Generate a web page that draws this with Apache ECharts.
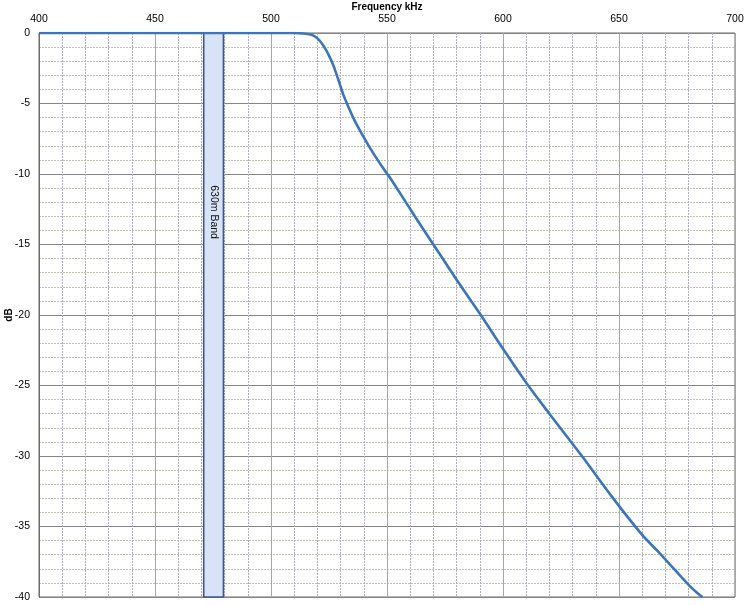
<!DOCTYPE html>
<html>
<head>
<meta charset="utf-8">
<script src="https://cdn.jsdelivr.net/npm/echarts@6/dist/echarts.min.js"></script>
<style>
html,body{margin:0;padding:0;background:#fff;}
#chart{width:750px;height:605px;}
</style>
</head>
<body>
<div id="chart"></div>
<script>
// Frequency response (kHz, dB)
var freqKHz = [400, 450, 500, 510, 514, 517, 519, 521, 523, 525, 527, 529, 531, 533, 536, 540, 544, 548, 551, 555, 562, 570, 580, 590, 600, 610, 620, 634, 647, 660, 667, 672, 677, 681, 684, 686];
var responseDb = [0, 0, 0, 0, -0.03, -0.1, -0.25, -0.55, -1.0, -1.6, -2.35, -3.3, -4.3, -5.1, -6.2, -7.4, -8.5, -9.5, -10.2, -11.2, -13.0, -15.0, -17.5, -19.9, -22.4, -24.8, -27.0, -30.0, -32.9, -35.6, -36.8, -37.7, -38.6, -39.3, -39.75, -40];

// 630m band
var bandStartKHz = [471];
var bandEndKHz = [479.5];
var bandNames = ['630m Band'];
var bandLabelDb = [-12.7];

var xName = 'Frequency kHz';
var yName = 'dB';

var curve = freqKHz.map(function (f, i) { return [f, responseDb[i]]; });
var bands = bandStartKHz.map(function (s, i) { return [s, bandEndKHz[i], bandLabelDb[i], bandNames[i]]; });

var FONT = 'Liberation Sans, Arial, sans-serif';
var chart = echarts.init(document.getElementById('chart'));
chart.setOption({
  animation: false,
  backgroundColor: '#ffffff',
  grid: {
    left: 39, right: 15, top: 33, bottom: 8,
    containLabel: false, outerBoundsMode: 'none',
    show: true, borderColor: '#6a6a6a', borderWidth: 1
  },
  xAxis: {
    type: 'value', position: 'top',
    min: 400, max: 700, interval: 50,
    name: xName, nameLocation: 'middle', nameGap: 21, nameMoveOverlap: false,
    nameTextStyle: { fontFamily: FONT, fontSize: 10, fontWeight: 'bold', color: '#000' },
    axisLine: { show: false },
    axisTick: { show: false },
    axisLabel: { fontFamily: FONT, fontSize: 10.5, color: '#000', margin: 8 },
    splitLine: { show: true, lineStyle: { color: '#a9a3b3', width: 1 } },
    minorTick: { show: false, splitNumber: 5 },
    minorSplitLine: { show: true, lineStyle: { color: '#b3adbb', width: 1, type: [2, 1] } }
  },
  yAxis: {
    type: 'value',
    min: -40, max: 0, interval: 5,
    name: yName, nameLocation: 'middle', nameGap: 25, nameMoveOverlap: false,
    nameTextStyle: { fontFamily: FONT, fontSize: 10, fontWeight: 'bold', color: '#000' },
    axisLine: { show: true, lineStyle: { color: '#6a6a6a' } },
    axisTick: { show: false },
    axisLabel: { fontFamily: FONT, fontSize: 10.5, color: '#000', margin: 9 },
    splitLine: { show: true, lineStyle: { color: '#858585', width: 1 } },
    minorTick: { show: false, splitNumber: 5 },
    minorSplitLine: { show: true, lineStyle: { color: '#bcc4b4', width: 1, type: [2, 1] } }
  },
  series: [
    {
      type: 'custom',
      z: 2,
      data: bands,
      renderItem: function (params, api) {
        var s = api.value(0), e = api.value(1), ly = api.value(2);
        var p0 = api.coord([s, 0]);
        var p1 = api.coord([e, -40]);
        var pl = api.coord([(s + e) / 2, ly]);
        return {
          type: 'group',
          children: [
            {
              type: 'rect',
              shape: { x: p0[0], y: p0[1], width: p1[0] - p0[0], height: p1[1] - p0[1] },
              style: { fill: '#d9e3f7', stroke: '#3a5794', lineWidth: 1.6 }
            },
            {
              type: 'text',
              x: pl[0], y: pl[1],
              rotation: -Math.PI / 2,
              style: {
                text: bands[params.dataIndex][3],
                fill: '#111', font: '10.5px ' + FONT,
                align: 'center', verticalAlign: 'middle'
              }
            }
          ]
        };
      }
    },
    {
      type: 'line',
      z: 5,
      data: curve,
      smooth: 0.3,
      showSymbol: false,
      lineStyle: { color: '#3c74bd', width: 2.6 }
    }
  ]
});
</script>
</body>
</html>
